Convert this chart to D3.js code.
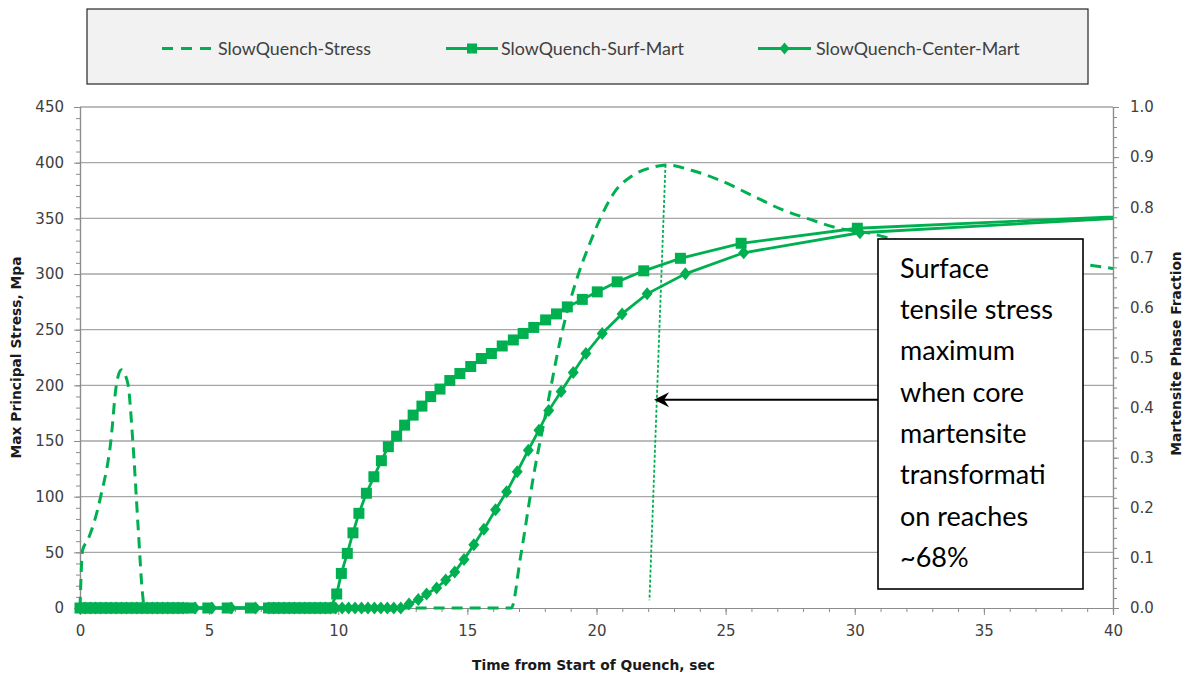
<!DOCTYPE html>
<html>
<head>
<meta charset="utf-8">
<script src="https://cdn.jsdelivr.net/npm/d3@7"></script>
<style>
  html, body { margin: 0; padding: 0; background: #ffffff; }
  svg { display: block; }
</style>
</head>
<body>
<svg id="chart" width="1185" height="677"></svg>
<script>
// ---------------- DATA ----------------
const seriesNames = ["SlowQuench-Stress", "SlowQuench-Surf-Mart", "SlowQuench-Center-Mart"];

// Stress (left axis, MPa)
const stressTime = [0, 0.1, 0.3, 0.8, 1.2, 1.4, 1.6, 1.85, 2.05, 2.25, 2.42, 2.5, 5, 10, 15, 16.7,
  17.06, 17.58, 18.09, 18.6, 19.3, 19.7, 20.13, 20.68, 21.37, 22.2, 22.7, 23.7, 24.8, 26.07,
  27.17, 28.28, 29.38, 30.5, 32, 34, 36, 38, 39.05, 40];
const stressMPa = [0, 52, 61, 100, 151, 199, 214, 202, 148, 73, 13, 0, 0, 0, 0, 0,
  46, 121, 181, 241, 300, 325, 349, 373, 388, 396, 398, 393, 384, 370,
  358, 349, 341, 337, 328, 320, 314, 310, 308, 305];

// Surface martensite fraction (right axis)
const surfTime = [0, 0.2, 0.4, 0.6, 0.8, 1.0, 1.2, 1.4, 1.6, 1.8, 2.0, 2.2, 2.4, 2.6, 2.8, 3.0,
  3.2, 3.4, 3.6, 3.8, 4.0, 4.3, 4.95, 5.7, 6.6, 7.3, 7.5, 7.7, 7.9, 8.1, 8.3, 8.5, 8.7, 8.9,
  9.1, 9.3, 9.5, 9.7, 9.94, 10.12, 10.35, 10.57, 10.8, 11.09, 11.38, 11.67, 11.94, 12.26,
  12.57, 12.9, 13.24, 13.58, 13.94, 14.32, 14.71, 15.13, 15.54, 15.93, 16.35, 16.78, 17.16,
  17.57, 18.03, 18.45, 18.87, 19.45, 20.03, 20.8, 21.83, 23.25, 25.6, 30.1, 45];
const surfFrac = [0, 0, 0, 0, 0, 0, 0, 0, 0, 0, 0, 0, 0, 0, 0, 0,
  0, 0, 0, 0, 0, 0, 0, 0, 0, 0, 0, 0, 0, 0, 0, 0, 0, 0,
  0, 0, 0, 0, 0.028, 0.069, 0.109, 0.150, 0.189, 0.229, 0.262, 0.294, 0.322, 0.343,
  0.365, 0.385, 0.403, 0.422, 0.437, 0.454, 0.468, 0.482, 0.498, 0.508, 0.523, 0.535, 0.548,
  0.560, 0.575, 0.587, 0.601, 0.616, 0.631, 0.651, 0.673, 0.698, 0.728, 0.758, 0.792];

// Center martensite fraction (right axis)
const centerTime = [0, 0.2, 0.4, 0.6, 0.8, 1.0, 1.2, 1.4, 1.6, 1.8, 2.0, 2.2, 2.4, 2.6, 2.8, 3.0,
  3.2, 3.4, 3.6, 3.8, 4.0, 4.45, 5.1, 5.85, 6.8, 7.3, 7.5, 7.7, 7.9, 8.1, 8.3, 8.5, 8.7, 8.9,
  9.1, 9.3, 9.5, 9.7, 9.9, 10.15, 10.4, 10.65, 10.9, 11.15, 11.4, 11.65, 11.9, 12.15, 12.42,
  12.74, 13.1, 13.42, 13.81, 14.16, 14.51, 14.87, 15.25, 15.64, 16.09, 16.52, 16.93, 17.36,
  17.77, 18.15, 18.63, 19.1, 19.59, 20.22, 20.99, 21.96, 23.44, 25.7, 30.2, 45];
const centerFrac = [0, 0, 0, 0, 0, 0, 0, 0, 0, 0, 0, 0, 0, 0, 0, 0,
  0, 0, 0, 0, 0, 0, 0, 0, 0, 0, 0, 0, 0, 0, 0, 0, 0, 0,
  0, 0, 0, 0, 0, 0, 0, 0, 0, 0, 0, 0, 0, 0, 0,
  0.008, 0.017, 0.028, 0.040, 0.056, 0.072, 0.097, 0.126, 0.157, 0.196, 0.232, 0.272, 0.315,
  0.355, 0.394, 0.432, 0.470, 0.508, 0.548, 0.587, 0.627, 0.667, 0.709, 0.749, 0.792];

// Axis ticks
const xTicks = [0, 5, 10, 15, 20, 25, 30, 35, 40];
const yLeftTicks = [0, 50, 100, 150, 200, 250, 300, 350, 400, 450];
const yRightTicks = [0, 0.1, 0.2, 0.3, 0.4, 0.5, 0.6, 0.7, 0.8, 0.9, 1.0];
const xMinorTicks = d3.range(0, 41, 1);
const yLeftMinorTicks = d3.range(0, 451, 10);
const yRightMinorTicks = d3.range(0, 51, 1).map(d => d / 50);

const xTitle = "Time from Start of Quench, sec";
const yLeftTitle = "Max Principal Stress, Mpa";
const yRightTitle = "Martensite Phase Fraction";

// Annotation (vertical dotted marker line in data units, and the note)
const markerLineTime = [22.67, 22.05];
const markerLineStress = [398, 7];
const arrowTip = { time: 22.23, stress: 187 };
const noteLines = ["Surface", "tensile stress", "maximum", "when core", "martensite", "transformati", "on reaches", "~68%"];

// ---------------- LAYOUT ----------------
const W = 1185, H = 677;
const plot = { left: 80, right: 1113, top: 107, bottom: 608 };
const green = "#00b050";
const gridColor = "#a6a6a6";
const axisColor = "#8c8c8c";
const textColor = "#404040";
const titleColor = "#1a1a1a";

const svg = d3.select("#chart");

const x = d3.scaleLinear().domain([0, 40]).range([plot.left, plot.right]);
const yL = d3.scaleLinear().domain([0, 450]).range([plot.bottom, plot.top]);
const yR = d3.scaleLinear().domain([0, 1]).range([plot.bottom, plot.top]);

svg.append("rect").attr("width", W).attr("height", H).attr("fill", "#fff");

// clip path for lines
svg.append("defs").append("clipPath").attr("id", "plotClip")
  .append("rect")
  .attr("x", plot.left - 20).attr("y", plot.top - 20)
  .attr("width", plot.right - plot.left + 20).attr("height", plot.bottom - plot.top + 40);

// gridlines
svg.append("g").selectAll("line")
  .data(yLeftTicks.filter(d => d > 0))
  .join("line")
  .attr("x1", plot.left).attr("x2", plot.right)
  .attr("y1", d => yL(d)).attr("y2", d => yL(d))
  .attr("stroke", gridColor).attr("stroke-width", 1.4);

// ---- Axes ----
const tickFont = "'DejaVu Sans', Verdana, sans-serif";

// Left axis
const gL = svg.append("g").attr("transform", `translate(${plot.left},0)`);
gL.call(d3.axisLeft(yL).tickValues(yLeftMinorTicks).tickSize(4).tickFormat(""));
const gLmaj = svg.append("g").attr("transform", `translate(${plot.left},0)`)
  .call(d3.axisLeft(yL).tickValues(yLeftTicks).tickSize(6).tickPadding(10).tickFormat(d3.format("d")));
[gL, gLmaj].forEach(g => {
  g.select(".domain").attr("stroke", axisColor).attr("stroke-width", 1.2);
  g.selectAll(".tick line").attr("stroke", axisColor);
});
gLmaj.selectAll("text").attr("font-family", tickFont).attr("font-size", 15).attr("fill", textColor);

// Right axis
const gR = svg.append("g").attr("transform", `translate(${plot.right},0)`);
gR.call(d3.axisRight(yR).tickValues(yRightMinorTicks).tickSize(4).tickFormat(""));
const gRmaj = svg.append("g").attr("transform", `translate(${plot.right},0)`)
  .call(d3.axisRight(yR).tickValues(yRightTicks).tickSize(6).tickPadding(11).tickFormat(d3.format(".1f")));
[gR, gRmaj].forEach(g => {
  g.select(".domain").attr("stroke", axisColor).attr("stroke-width", 1.2);
  g.selectAll(".tick line").attr("stroke", axisColor);
});
gRmaj.selectAll("text").attr("font-family", tickFont).attr("font-size", 15).attr("fill", textColor);

// Bottom axis
const gB = svg.append("g").attr("transform", `translate(0,${plot.bottom})`);
gB.call(d3.axisBottom(x).tickValues(xMinorTicks).tickSize(4).tickFormat(""));
const gBmaj = svg.append("g").attr("transform", `translate(0,${plot.bottom})`)
  .call(d3.axisBottom(x).tickValues(xTicks).tickSize(7).tickPadding(10).tickFormat(d3.format("d")));
[gB, gBmaj].forEach(g => {
  g.select(".domain").attr("stroke", axisColor).attr("stroke-width", 1.2);
  g.selectAll(".tick line").attr("stroke", axisColor);
});
gBmaj.selectAll("text").attr("font-family", tickFont).attr("font-size", 15).attr("fill", textColor);

// Axis titles
const titleFont = "'DejaVu Sans', Verdana, sans-serif";
const titleSize = 13.8;
const midY = (plot.top + plot.bottom) / 2;
svg.append("text")
  .attr("transform", `translate(21,${midY}) rotate(-90)`)
  .attr("text-anchor", "middle")
  .attr("font-family", titleFont).attr("font-weight", "bold").attr("font-size", titleSize)
  .attr("fill", titleColor).text(yLeftTitle);
svg.append("text")
  .attr("transform", `translate(1181,${midY - 4}) rotate(-90)`)
  .attr("text-anchor", "middle")
  .attr("font-family", titleFont).attr("font-weight", "bold").attr("font-size", titleSize)
  .attr("fill", titleColor).text(yRightTitle);
svg.append("text")
  .attr("x", (plot.left + plot.right) / 2 - 3).attr("y", 670)
  .attr("text-anchor", "middle")
  .attr("font-family", titleFont).attr("font-weight", "bold").attr("font-size", titleSize)
  .attr("fill", titleColor).text(xTitle);

// ---- Series ----
const stressData = stressTime.map((t, i) => ({ t, v: stressMPa[i] }));
const surfData = surfTime.map((t, i) => ({ t, v: surfFrac[i] }));
const centerData = centerTime.map((t, i) => ({ t, v: centerFrac[i] }));

const series = svg.append("g");

series.append("path")
  .datum(stressData)
  .attr("clip-path", "url(#plotClip)")
  .attr("fill", "none").attr("stroke", green).attr("stroke-width", 3)
  .attr("stroke-dasharray", "11,7")
  .attr("d", d3.line().x(d => x(d.t)).y(d => yL(d.v)).curve(d3.curveMonotoneX));

const lineR = d3.line().x(d => x(d.t)).y(d => yR(d.v));

series.append("path")
  .datum(surfData)
  .attr("clip-path", "url(#plotClip)")
  .attr("fill", "none").attr("stroke", green).attr("stroke-width", 2.8)
  .attr("d", lineR);

const sq = 11;
series.append("g").selectAll("rect")
  .data(surfData.filter(d => d.t <= 40))
  .join("rect")
  .attr("x", d => x(d.t) - sq / 2).attr("y", d => yR(d.v) - sq / 2)
  .attr("width", sq).attr("height", sq)
  .attr("fill", green);

series.append("path")
  .datum(centerData)
  .attr("clip-path", "url(#plotClip)")
  .attr("fill", "none").attr("stroke", green).attr("stroke-width", 2.8)
  .attr("d", lineR);

const diamond = (cx, cy, hw, hh) => `M${cx},${cy - hh}L${cx + hw},${cy}L${cx},${cy + hh}L${cx - hw},${cy}Z`;
series.append("g").selectAll("path")
  .data(centerData.filter(d => d.t <= 40))
  .join("path")
  .attr("d", d => diamond(x(d.t), yR(d.v), 5.5, 6.5))
  .attr("fill", green);

// ---- Annotation ----
svg.append("line")
  .attr("x1", x(markerLineTime[0])).attr("y1", yL(markerLineStress[0]))
  .attr("x2", x(markerLineTime[1])).attr("y2", yL(markerLineStress[1]))
  .attr("stroke", green).attr("stroke-width", 1.8).attr("stroke-dasharray", "3,2");

const box = { x: 878, y: 239, w: 205, h: 350 };
svg.append("rect")
  .attr("x", box.x).attr("y", box.y).attr("width", box.w).attr("height", box.h)
  .attr("fill", "#fff").attr("stroke", "#000").attr("stroke-width", 1.6);

const tipX = x(arrowTip.time), tipY = yL(arrowTip.stress);
svg.append("line")
  .attr("x1", box.x).attr("y1", tipY).attr("x2", tipX + 8).attr("y2", tipY)
  .attr("stroke", "#000").attr("stroke-width", 2);
svg.append("path")
  .attr("d", `M${tipX},${tipY}L${tipX + 15},${tipY - 7.5}L${tipX + 10},${tipY}L${tipX + 15},${tipY + 7.5}Z`)
  .attr("fill", "#000");

const noteFont = "Lato, 'Open Sans', sans-serif";
const noteG = svg.append("g");
const noteText = noteG.selectAll("text")
  .data(noteLines)
  .join("text")
  .attr("x", 900).attr("y", (d, i) => 277.7 + i * 41.3)
  .attr("font-family", noteFont).attr("font-size", 28).attr("fill", "#000")
  .text(d => d);
// fit font size so "tensile stress" spans about 153px like the reference
{
  const w = noteText.filter((d, i) => i === 1).node().getComputedTextLength();
  if (w > 0) noteText.attr("font-size", 28 * 153 / w);
}

// ---- Legend ----
const leg = { x: 87, y: 9, w: 1001, h: 75 };
svg.append("rect")
  .attr("x", leg.x).attr("y", leg.y).attr("width", leg.w).attr("height", leg.h)
  .attr("fill", "#f2f2f2").attr("stroke", "#262626").attr("stroke-width", 1.2);
const legY = 48.5;
const legFont = "Lato, 'Open Sans', sans-serif";
const legItems = [
  { name: seriesNames[0], x0: 162, x1: 213, tx: 218, marker: null, dash: "11,8" },
  { name: seriesNames[1], x0: 446, x1: 498, tx: 501, marker: "square", dash: null },
  { name: seriesNames[2], x0: 758, x1: 811, tx: 816, marker: "diamond", dash: null }
];
const legG = svg.append("g");
legItems.forEach(it => {
  legG.append("line")
    .attr("x1", it.x0).attr("x2", it.x1).attr("y1", legY).attr("y2", legY)
    .attr("stroke", green).attr("stroke-width", it.dash ? 3 : 2.8)
    .attr("stroke-dasharray", it.dash);
  const cx = (it.x0 + it.x1) / 2;
  if (it.marker === "square") {
    legG.append("rect").attr("x", cx - 5).attr("y", legY - 5).attr("width", 10).attr("height", 10).attr("fill", green);
  } else if (it.marker === "diamond") {
    legG.append("path").attr("d", diamond(cx, legY, 5, 6)).attr("fill", green);
  }
  it.textNode = legG.append("text")
    .attr("x", it.tx).attr("y", legY).attr("dy", "0.35em")
    .attr("font-family", legFont).attr("font-size", 18).attr("fill", "#404040")
    .text(it.name);
});
{
  const w = legItems[0].textNode.node().getComputedTextLength();
  if (w > 0) legItems.forEach(it => it.textNode.attr("font-size", 18 * 153 / w));
}
</script>
</body>
</html>
